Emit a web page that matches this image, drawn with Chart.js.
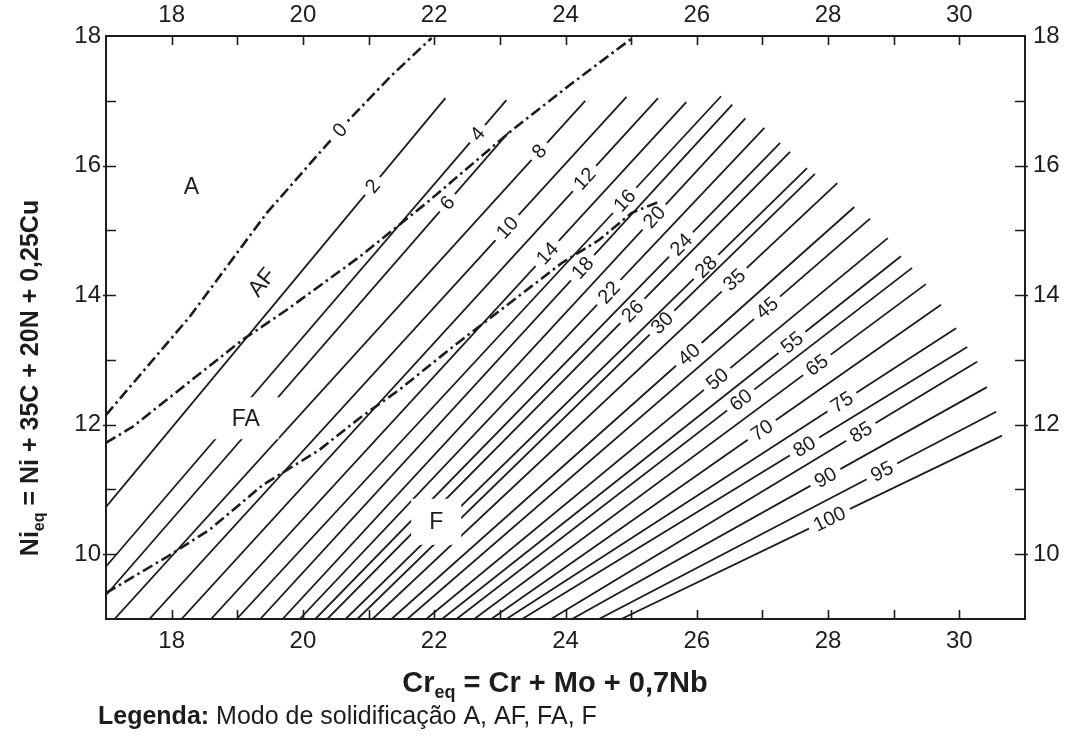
<!DOCTYPE html>
<html lang="pt">
<head>
<meta charset="utf-8">
<title>Diagrama WRC-1992</title>
<script src="https://cdn.jsdelivr.net/npm/chart.js@4.4.1/dist/chart.umd.min.js"></script>
<style>
  html, body { margin: 0; padding: 0; background: #fff; }
  #wrap { position: relative; width: 1070px; height: 744px; }
</style>
</head>
<body>
<div id="wrap"><canvas id="wrc"></canvas></div>
<script>
// Axis ticks (Cr_eq on x, Ni_eq on y)
const crTicks = [18, 20, 22, 24, 26, 28, 30];
const niTicks = [10, 12, 14, 16, 18];

// Iso-ferrite-number lines: lower end, upper end, and where the number sits (Cr_eq)
const fnValues  = [2, 4, 6, 8, 10, 12, 14, 16, 18, 20, 22, 24, 26, 28, 30, 35, 40, 45, 50, 55, 60, 65, 70, 75, 80, 85, 90, 95, 100];
const fnStartCr = [17.00, 17.00, 17.00, 17.13, 17.66, 18.15, 18.60, 18.99, 19.35, 19.69, 19.95, 20.19, 20.37, 20.65, 20.83,
                   21.06, 21.35, 21.59, 21.88, 22.12, 22.34, 22.61, 22.87, 23.10, 23.34, 23.78, 24.10, 24.51, 24.85];
const fnStartNi = [10.73, 9.81, 9.37, 9, 9, 9, 9, 9, 9, 9, 9, 9, 9, 9, 9,
                   9, 9, 9, 9, 9, 9, 9, 9, 9, 9, 9, 9, 9, 9];
const fnEndCr   = [22.17, 23.10, 23.14, 24.30, 24.93, 25.41, 25.84, 26.37, 26.54, 26.74, 27.03, 27.27, 27.42, 27.68, 27.80,
                   28.14, 28.40, 28.64, 28.91, 29.11, 29.28, 29.49, 29.72, 29.95, 30.12, 30.27, 30.42, 30.56, 30.65];
const fnEndNi   = [17.04, 17.01, 16.52, 17.00, 17.06, 17.04, 16.98, 17.07, 16.94, 16.73, 16.58, 16.35, 16.21, 15.96, 15.87,
                   15.73, 15.36, 15.18, 14.88, 14.60, 14.42, 14.17, 13.85, 13.49, 13.20, 12.97, 12.58, 12.20, 11.83];
const fnLabelCr = [21.06, 22.66, 22.20, 23.60, 23.11, 24.29, 23.72, 24.90, 24.26, 25.35, 24.66, 25.76, 25.02, 26.14, 25.47,
                   26.57, 25.88, 27.07, 26.31, 27.45, 26.67, 27.83, 26.99, 28.21, 27.64, 28.50, 27.96, 28.82, 28.02];

// Solidification mode boundaries (dash-dot)
const zeroCr = [17.00, 18.27, 19.45, 20.63, 21.36, 21.96];       // A / AF, also FN 0
const zeroNi = [12.15, 13.66, 15.27, 16.63, 17.40, 17.97];
const zeroLabel = 0;
const zeroLabelCr = 20.56;
const afFaCr = [17.00, 17.41, 17.92, 19.08, 19.75, 20.86, 21.88, 23.19, 24.10, 25.02];   // AF / FA
const afFaNi = [11.72, 11.97, 12.38, 13.31, 13.77, 14.59, 15.42, 16.55, 17.27, 17.97];
const faFCr  = [17.00, 17.93, 18.58, 19.39, 20.25, 20.86, 21.47, 22.28, 23.95, 24.51, 25.01, 25.42];   // FA / F
const faFNi  = [9.40, 9.96, 10.38, 11.07, 11.61, 12.10, 12.54, 13.20, 14.50, 14.85, 15.27, 15.44];

// Region names
const regionNames = ["A", "AF", "FA", "F"];
const regionCr = [18.30, 19.37, 19.13, 22.03];
const regionNi = [15.67, 14.20, 12.10, 10.50];

const INK = "#1c1c1c";
const FONT = "'Liberation Sans', Arial, Helvetica, sans-serif";

function toPoints(xs, ys) {
  return xs.map((x, i) => ({ x, y: ys[i] }));
}

function niOnPolyline(xs, ys, x) {
  for (let i = 0; i < xs.length - 1; i++) {
    if (x >= xs[i] && x <= xs[i + 1]) {
      const t = (x - xs[i]) / (xs[i + 1] - xs[i]);
      return { y: ys[i] + t * (ys[i + 1] - ys[i]), i };
    }
  }
  return { y: ys[ys.length - 1], i: xs.length - 2 };
}

const datasets = [];

fnValues.forEach((fn, i) => {
  datasets.push({
    label: "FN " + fn,
    data: [{ x: fnStartCr[i], y: fnStartNi[i] }, { x: fnEndCr[i], y: fnEndNi[i] }],
    showLine: true,
    borderColor: INK,
    borderWidth: 1.8,
    pointRadius: 0
  });
});

const dashDot = [11, 4, 2.5, 4];
[[zeroCr, zeroNi], [afFaCr, afFaNi], [faFCr, faFNi]].forEach(([xs, ys]) => {
  datasets.push({
    data: toPoints(xs, ys),
    showLine: true,
    borderColor: INK,
    borderWidth: 2.6,
    borderDash: dashDot,
    pointRadius: 0
  });
});

function drawLineLabel(ctx, text, px, py, angle) {
  ctx.save();
  ctx.translate(px, py);
  ctx.rotate(angle);
  ctx.font = "20px " + FONT;
  const w = ctx.measureText(text).width;
  ctx.fillStyle = "#fff";
  ctx.fillRect(-w / 2 - 6, -4, w + 12, 8);
  ctx.fillStyle = INK;
  ctx.textAlign = "center";
  ctx.textBaseline = "middle";
  ctx.fillText(text, 0, 1);
  ctx.restore();
}

function drawSubscripted(ctx, parts, size, x, y) {
  // parts: [text, isSub]; x is the centre, y the baseline
  const mainFont = "bold " + size + "px " + FONT;
  const subFont = "bold " + Math.round(size * 0.62) + "px " + FONT;
  let total = 0;
  const widths = parts.map(([t, sub]) => {
    ctx.font = sub ? subFont : mainFont;
    const w = ctx.measureText(t).width;
    total += w;
    return w;
  });
  let cx = x - total / 2;
  ctx.textAlign = "left";
  ctx.textBaseline = "alphabetic";
  parts.forEach(([t, sub], i) => {
    ctx.font = sub ? subFont : mainFont;
    ctx.fillText(t, cx, sub ? y + size * 0.22 : y);
    cx += widths[i];
  });
}

const wrcOverlay = {
  id: "wrcOverlay",
  beforeDraw(chart) {
    const ctx = chart.ctx;
    ctx.save();
    ctx.fillStyle = "#fff";
    ctx.fillRect(0, 0, chart.width, chart.height);
    ctx.restore();
  },
  afterDatasetsDraw(chart) {
    const { ctx, scales: { x, y }, chartArea: a } = chart;
    ctx.save();
    ctx.beginPath();
    ctx.rect(a.left, a.top, a.right - a.left, a.bottom - a.top);
    ctx.clip();

    // ferrite numbers along each line
    fnValues.forEach((fn, i) => {
      const x1 = x.getPixelForValue(fnStartCr[i]), y1 = y.getPixelForValue(fnStartNi[i]);
      const x2 = x.getPixelForValue(fnEndCr[i]), y2 = y.getPixelForValue(fnEndNi[i]);
      const t = (fnLabelCr[i] - fnStartCr[i]) / (fnEndCr[i] - fnStartCr[i]);
      const ni = fnStartNi[i] + t * (fnEndNi[i] - fnStartNi[i]);
      drawLineLabel(ctx, String(fn), x.getPixelForValue(fnLabelCr[i]), y.getPixelForValue(ni), Math.atan2(y2 - y1, x2 - x1));
    });

    // FN 0 on the A/AF boundary
    const z = niOnPolyline(zeroCr, zeroNi, zeroLabelCr);
    const za = Math.atan2(
      y.getPixelForValue(zeroNi[z.i + 1]) - y.getPixelForValue(zeroNi[z.i]),
      x.getPixelForValue(zeroCr[z.i + 1]) - x.getPixelForValue(zeroCr[z.i])
    );
    drawLineLabel(ctx, String(zeroLabel), x.getPixelForValue(zeroLabelCr), y.getPixelForValue(z.y), za);

    // solidification mode regions
    regionNames.forEach((name, i) => {
      const px = x.getPixelForValue(regionCr[i]);
      const py = y.getPixelForValue(regionNi[i]);
      ctx.save();
      ctx.translate(px, py);
      if (name === "AF") ctx.rotate(-0.9);
      if (name === "FA") { ctx.fillStyle = "#fff"; ctx.fillRect(-33, -21, 66, 42); }
      if (name === "F") { ctx.fillStyle = "#fff"; ctx.fillRect(-25, -23, 50, 46); }
      ctx.font = "23px " + FONT;
      ctx.fillStyle = INK;
      ctx.textAlign = "center";
      ctx.textBaseline = "middle";
      ctx.fillText(name, 0, 1);
      ctx.restore();
    });
    ctx.restore();
  },
  afterDraw(chart) {
    const { ctx, scales: { x, y }, chartArea: a } = chart;
    ctx.save();
    ctx.strokeStyle = INK;
    ctx.lineWidth = 1.6;
    ctx.beginPath();
    for (let v = Math.ceil(x.min) + 1; v < x.max; v++) {
      const px = Math.round(x.getPixelForValue(v)) + 0.5;
      ctx.moveTo(px, a.bottom); ctx.lineTo(px, a.bottom - 9);
      ctx.moveTo(px, a.top); ctx.lineTo(px, a.top + 9);
    }
    for (let v = Math.ceil(y.min) + 1; v < y.max; v++) {
      const py = Math.round(y.getPixelForValue(v)) + 0.5;
      const out = niTicks.includes(v) ? 3 : 0;
      ctx.moveTo(a.left - out, py); ctx.lineTo(a.left + 10, py);
      ctx.moveTo(a.right + out, py); ctx.lineTo(a.right - 10, py);
    }
    ctx.stroke();

    // axis titles
    ctx.fillStyle = INK;
    drawSubscripted(ctx, [["Cr", false], ["eq", true], [" = Cr + Mo + 0,7Nb", false]], 29, 555, 692);
    ctx.save();
    ctx.translate(38, 378);
    ctx.rotate(-Math.PI / 2);
    drawSubscripted(ctx, [["Ni", false], ["eq", true], [" = Ni + 35C + 20N + 0,25Cu", false]], 25, 0, 0);
    ctx.restore();

    // legend line under the chart
    ctx.textAlign = "left";
    ctx.textBaseline = "alphabetic";
    ctx.font = "bold 25px " + FONT;
    const lead = "Legenda:";
    ctx.fillText(lead, 98, 724);
    const lw = ctx.measureText(lead).width;
    ctx.font = "25px " + FONT;
    ctx.fillText(" Modo de solidificação A, AF, FA, F", 98 + lw, 724);
    ctx.restore();
  }
};

const tickFont = { family: FONT, size: 24 };
const axisBase = {
  type: "linear",
  grid: { drawOnChartArea: false, drawTicks: false },
  border: { display: true, color: INK, width: 2 }
};

new Chart(document.getElementById("wrc"), {
  type: "scatter",
  data: { datasets },
  options: {
    responsive: true,
    maintainAspectRatio: false,
    animation: false,
    layout: { padding: 0 },
    plugins: { legend: { display: false }, tooltip: { enabled: false } },
    scales: {
      x: {
        ...axisBase, position: "bottom", min: 17, max: 31,
        afterBuildTicks: s => { s.ticks = crTicks.map(v => ({ value: v })); },
        afterFit: s => { s.height = 125; },
        ticks: { color: INK, font: tickFont, padding: 8, maxRotation: 0 }
      },
      x2: {
        ...axisBase, position: "top", min: 17, max: 31,
        afterBuildTicks: s => { s.ticks = crTicks.map(v => ({ value: v })); },
        afterFit: s => { s.height = 36; },
        ticks: { color: INK, font: tickFont, padding: 6, maxRotation: 0 }
      },
      y: {
        ...axisBase, position: "left", min: 9, max: 18,
        afterBuildTicks: s => { s.ticks = niTicks.map(v => ({ value: v })); },
        afterFit: s => { s.width = 106; },
        ticks: { color: INK, font: tickFont, padding: 5 }
      },
      y2: {
        ...axisBase, position: "right", min: 9, max: 18,
        afterBuildTicks: s => { s.ticks = niTicks.map(v => ({ value: v })); },
        afterFit: s => { s.width = 45; },
        ticks: { color: INK, font: tickFont, padding: 8 }
      }
    }
  },
  plugins: [wrcOverlay]
});
</script>
</body>
</html>
